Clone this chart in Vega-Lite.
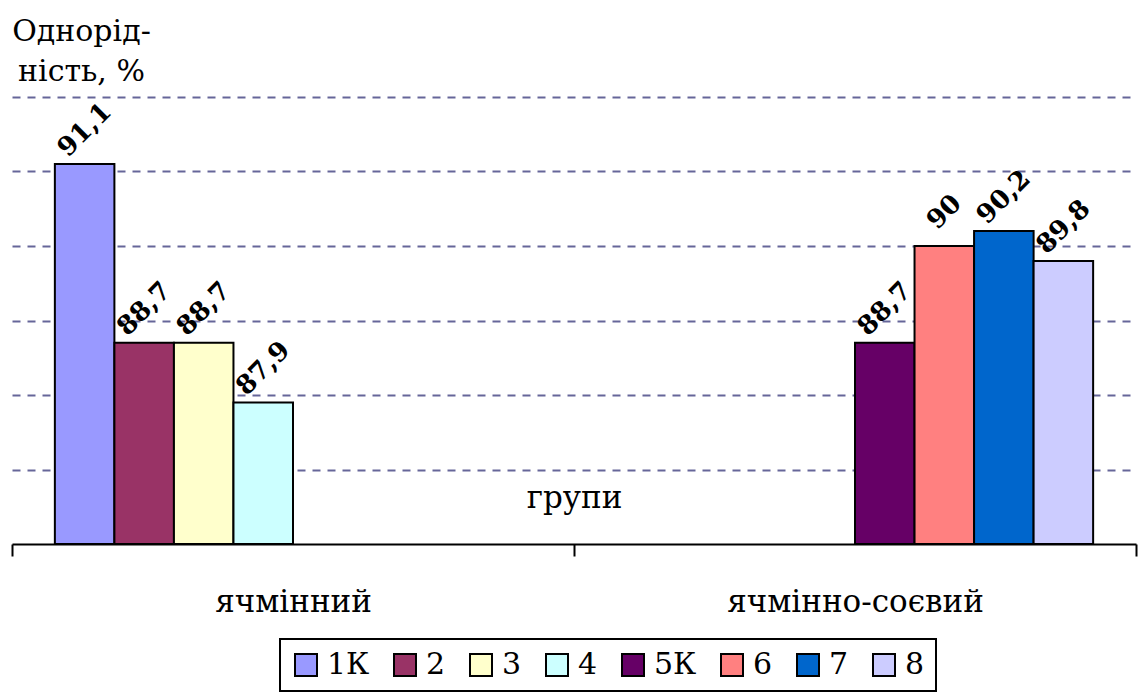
{
  "$schema": "https://vega.github.io/schema/vega-lite/v6.json",
  "autosize": {"type": "none"},
  "width": 1124,
  "height": 447,
  "padding": {"left": 12, "top": 97, "right": 5, "bottom": 151},
  "background": "white",
  "config": {
    "font": "DejaVu Serif",
    "view": {"stroke": null},
    "axis": {"labelFont": "DejaVu Serif", "titleFont": "DejaVu Serif"},
    "legend": {"labelFont": "DejaVu Serif", "strokeWidth": 2}
  },
  "data": {
    "values": [
      {"group": "ячмінний", "series": "1К", "value": 91.1, "label": "91,1"},
      {"group": "ячмінний", "series": "2", "value": 88.7, "label": "88,7"},
      {"group": "ячмінний", "series": "3", "value": 88.7, "label": "88,7"},
      {"group": "ячмінний", "series": "4", "value": 87.9, "label": "87,9"},
      {"group": "ячмінно-соєвий", "series": "5К", "value": 88.7, "label": "88,7"},
      {"group": "ячмінно-соєвий", "series": "6", "value": 90.0, "label": "90"},
      {"group": "ячмінно-соєвий", "series": "7", "value": 90.2, "label": "90,2"},
      {"group": "ячмінно-соєвий", "series": "8", "value": 89.8, "label": "89,8"}
    ]
  },
  "encoding": {
    "x": {
      "field": "group", "type": "nominal",
      "scale": {"domain": ["ячмінний", "ячмінно-соєвий"], "paddingInner": 0, "paddingOuter": 0},
      "axis": {
        "title": "групи", "titleFontSize": 31, "titleFontWeight": "normal", "titleColor": "black",
        "titleY": -37, "titleBaseline": "alphabetic",
        "labelAngle": 0, "labelFontSize": 31, "labelColor": "black", "labelPadding": 31, "labelLimit": 0,
        "domainColor": "black", "domainWidth": 2,
        "tickColor": "black", "tickWidth": 2, "tickSize": 12, "tickBand": "extent",
        "grid": false
      }
    },
    "xOffset": {
      "field": "series", "type": "nominal",
      "scale": {"domain": ["1К", "2", "3", "4", "5К", "6", "7", "8"], "paddingInner": 0, "paddingOuter": 0.72}
    },
    "y": {
      "field": "value", "type": "quantitative",
      "scale": {"domain": [86, 92], "zero": false, "nice": false},
      "axis": {
        "title": ["Однорід-", "ність, %"], "titleAngle": 0, "titleAlign": "center",
        "titleBaseline": "alphabetic", "titleX": 69, "titleY": -57,
        "titleFontSize": 30, "titleFontWeight": "normal", "titleColor": "black", "titleLineHeight": 40,
        "labels": false, "ticks": false, "domain": false,
        "values": [87, 88, 89, 90, 91, 92],
        "grid": true, "gridColor": "#666699", "gridWidth": 2, "gridDash": [8, 7]
      }
    }
  },
  "layer": [
    {
      "mark": {"type": "bar", "stroke": "black", "strokeWidth": 2},
      "encoding": {
        "y2": {"datum": 86},
        "color": {
          "field": "series", "type": "nominal",
          "scale": {
            "domain": ["1К", "2", "3", "4", "5К", "6", "7", "8"],
            "range": ["#9999FF", "#993366", "#FFFFCC", "#CCFFFF", "#660066", "#FF8080", "#0066CC", "#CCCCFF"]
          },
          "legend": {
            "title": null, "orient": "none", "direction": "horizontal",
            "legendX": 268, "legendY": 542,
            "strokeColor": "black", "padding": 11,
            "symbolType": "square", "symbolSize": 484, "symbolStrokeColor": "black", "symbolStrokeWidth": 2,
            "symbolOpacity": 1,
            "labelFontSize": 30, "labelColor": "black", "labelOffset": 6, "columnPadding": 20
          }
        }
      }
    },
    {
      "mark": {"type": "text", "angle": -45, "align": "center", "baseline": "middle", "yOffset": -34,
               "fontSize": 26, "fontWeight": "bold", "color": "black"},
      "encoding": {"text": {"field": "label"}}
    }
  ]
}
